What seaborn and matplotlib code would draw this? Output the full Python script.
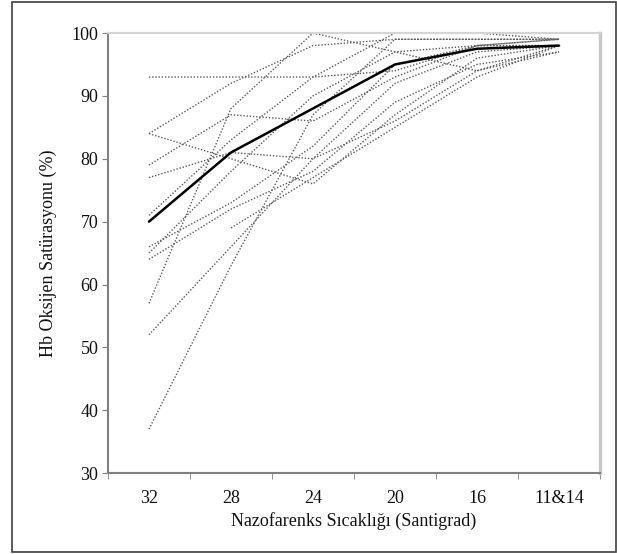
import numpy as np
import pandas as pd
import matplotlib
matplotlib.use("Agg")
import matplotlib.pyplot as plt
import seaborn as sns
from matplotlib.patches import Rectangle

temps = ["32", "28", "24", "20", "16", "11&14"]

# individual subjects (approximate)
s01 = [93, 93, 93, 94, 98, 98]
s02 = [84, 92, 98, 99, 99, 99]
s03 = [84, 80, 76, 87, 96, 98]
s04 = [79, 87, 86, 93, 98, 99]
s05 = [77, 81, 80, 86, 94, 97]
s06 = [71, 83, 93, 100, 100, 99]
s07 = [66, 73, 82, 95, 98, 98]
s08 = [65, 78, 90, 97, 98, 99]
s09 = [64, 72, 78, 89, 95, 97]
s10 = [57, 88, 100, 97, 94, 98]
s11 = [52, 66, 80, 92, 97, 98]
s12 = [37, 63, 87, 99, 99, 99]
s13 = [np.nan, 69, 77, 85, 93, 98]
mean_sat = [70, 81, 88, 95, 97.5, 98]

subjects = [s01, s02, s03, s04, s05, s06, s07, s08, s09, s10, s11, s12, s13]

rows = []
for i, vals in enumerate(subjects):
    for t, v in zip(temps, vals):
        rows.append({"subject": i, "temp": t, "sat": v})
df = pd.DataFrame(rows).dropna()
df_mean = pd.DataFrame({"temp": temps, "sat": mean_sat})

sns.set_style("white")
plt.rcParams["font.family"] = ["Liberation Serif", "DejaVu Serif"]

fig = plt.figure(figsize=(6.17, 5.54), dpi=100)
ax = fig.add_axes([0.175, 0.146, 0.7975, 0.7944])

sns.lineplot(data=df, x="temp", y="sat", units="subject", estimator=None,
             color="#5a5a5a", linewidth=1.0, linestyle=(0, (1, 1.3)), ax=ax)
sns.lineplot(data=df_mean, x="temp", y="sat", color="black", linewidth=1.8, ax=ax)

ax.set_xlim(-0.5, 5.5)
ax.set_ylim(30, 100)
ax.set_yticks(range(30, 101, 10))
ax.set_xticks(range(len(temps)))
ax.set_xticklabels(temps)
ax.set_xticks(np.arange(-0.5, 5.6, 1), minor=True)
ax.tick_params(axis="x", which="major", length=0, pad=12, labelsize=13, labelcolor="#111111")
ax.tick_params(axis="x", which="minor", length=4, color="#808080", direction="out", bottom=True)
ax.tick_params(axis="y", length=4, color="#808080", direction="out", left=True,
               labelsize=13, pad=3, labelcolor="#111111")

ax.set_xlabel("Nazofarenks Sıcaklığı (Santigrad)", fontsize=13, labelpad=4, color="#111111")
ax.set_ylabel("Hb Oksijen Satürasyonu (%)", fontsize=13, labelpad=10, color="#111111")

ax.spines["left"].set_color("#808080")
ax.spines["left"].set_linewidth(1.5)
ax.spines["bottom"].set_color("#808080")
ax.spines["bottom"].set_linewidth(1.5)
ax.spines["top"].set_color("#d4d4d4")
ax.spines["top"].set_linewidth(1.5)
ax.spines["right"].set_color("#c8c8c8")
ax.spines["right"].set_linewidth(2.5)

fig.patches.append(Rectangle((0.0194, 0.004), 0.979, 0.993, transform=fig.transFigure,
                             fill=False, edgecolor="#404040", linewidth=1.2))

fig.savefig("out.png", dpi=100)
